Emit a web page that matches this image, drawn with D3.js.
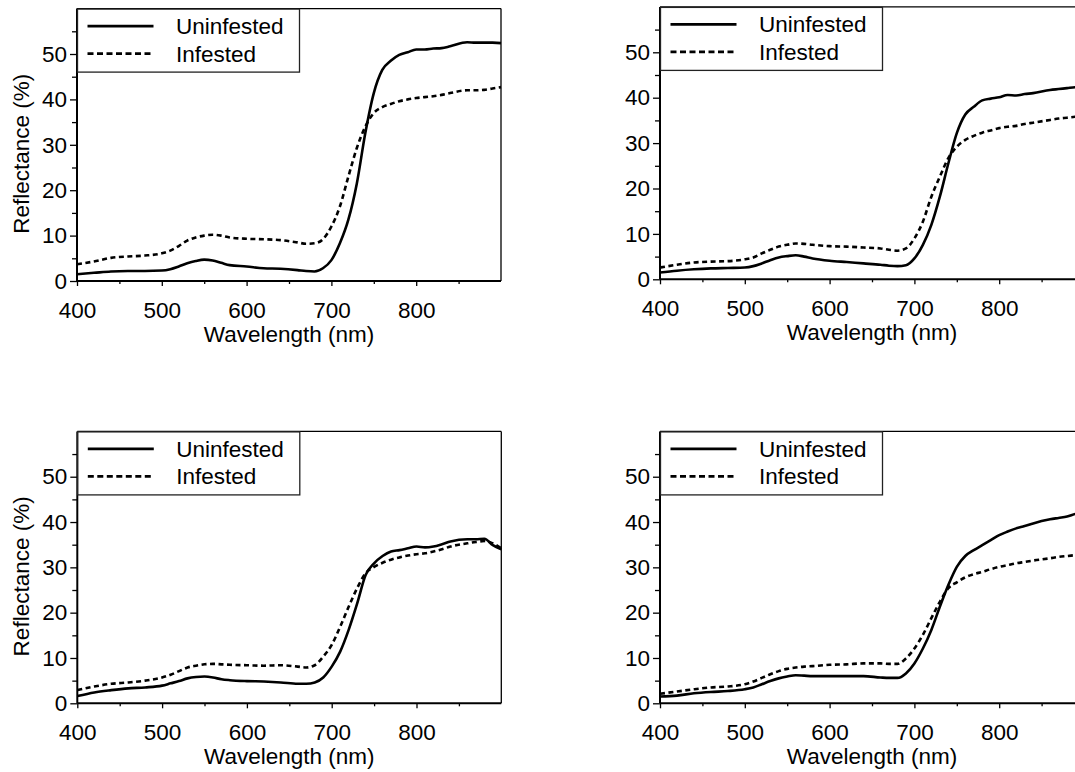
<!DOCTYPE html>
<html>
<head>
<meta charset="utf-8">
<script src="https://cdn.jsdelivr.net/npm/d3@7"></script>
<style>
  body { margin: 0; background: #fff; }
  svg { display: block; font-family: "Liberation Sans", Arial, sans-serif; }
  .tick text { font-size: 22.5px; fill: #000; }
  .tick line { stroke: #000; stroke-width: 1.3; }
</style>
</head>
<body>
<svg id="chart" width="1075" height="772"></svg>
<script>
// wavelength grid (nm) shared by all four panels
const wavelengths = [400, 420, 440, 460, 480, 500, 510, 520, 530, 540, 550, 560, 570, 580, 600, 620, 640, 660, 670, 680,
    690, 700, 710, 720, 730, 740, 750, 760, 770, 780, 790, 800, 810, 820, 830, 840, 860, 870, 880, 890, 900];

// reflectance (%)
const uninfestedA = [1.5, 1.8, 2.1, 2.2, 2.2, 2.3, 2.6, 3.2, 3.9, 4.4, 4.7, 4.5, 4.0, 3.5, 3.2, 2.8, 2.7, 2.4, 2.2, 2.1,
    2.8, 4.6, 8.3, 13.5, 21.5, 32.6, 41.4, 46.5, 48.5, 49.8, 50.4, 51.0, 51.0, 51.2, 51.3, 51.7, 52.6, 52.5, 52.5, 52.5, 52.4];
const infestedA = [3.7, 4.3, 5.1, 5.4, 5.6, 6.1, 6.7, 7.7, 8.9, 9.6, 10.0, 10.2, 10.0, 9.6, 9.3, 9.2, 9.0, 8.5, 8.2, 8.3,
    9.2, 12.0, 16.4, 23.0, 29.3, 34.0, 37.0, 38.3, 39.0, 39.6, 40.0, 40.3, 40.5, 40.7, 41.0, 41.4, 42.0, 42.0, 42.1, 42.4, 42.7];

const uninfestedB = [1.5, 1.9, 2.2, 2.4, 2.5, 2.6, 2.9, 3.5, 4.2, 4.8, 5.1, 5.3, 5.0, 4.6, 4.1, 3.8, 3.5, 3.2, 3.0, 2.9,
    3.1, 4.6, 7.6, 12.0, 18.2, 25.5, 32.2, 36.3, 38.0, 39.4, 39.8, 40.1, 40.6, 40.5, 40.8, 41.0, 41.7, 41.9, 42.1, 42.3, 42.3];
const infestedB = [2.6, 3.2, 3.7, 3.9, 4.0, 4.4, 4.8, 5.7, 6.5, 7.2, 7.6, 7.9, 7.8, 7.6, 7.3, 7.2, 7.0, 6.8, 6.5, 6.3,
    6.8, 9.0, 12.7, 18.2, 22.6, 26.7, 29.2, 30.7, 31.6, 32.3, 32.8, 33.3, 33.6, 33.8, 34.2, 34.5, 35.1, 35.4, 35.6, 35.8, 35.9];

const uninfestedC = [1.6, 2.4, 2.9, 3.3, 3.5, 3.9, 4.4, 4.9, 5.5, 5.8, 5.9, 5.7, 5.3, 5.1, 4.9, 4.8, 4.6, 4.3, 4.3, 4.6,
    5.7, 8.1, 11.4, 16.2, 22.0, 28.3, 30.9, 32.5, 33.5, 33.8, 34.2, 34.6, 34.4, 34.6, 35.1, 35.7, 36.2, 36.2, 36.3, 34.9, 34.0];
const infestedC = [2.9, 3.7, 4.3, 4.6, 5.0, 5.7, 6.3, 7.1, 7.9, 8.3, 8.6, 8.7, 8.6, 8.5, 8.4, 8.3, 8.4, 8.1, 7.9, 8.4,
    10.3, 12.9, 16.9, 21.3, 25.4, 28.7, 30.1, 31.0, 31.7, 32.2, 32.6, 32.9, 33.1, 33.5, 34.0, 34.6, 35.3, 35.6, 35.8, 35.3, 34.2];

const uninfestedD = [1.5, 1.7, 2.2, 2.5, 2.7, 3.1, 3.5, 4.2, 4.9, 5.5, 5.9, 6.2, 6.1, 6.0, 6.0, 6.0, 6.0, 5.7, 5.6, 5.6,
    6.6, 8.8, 12.1, 16.2, 21.3, 26.1, 30.1, 32.5, 33.8, 34.9, 36.0, 37.1, 37.9, 38.6, 39.1, 39.7, 40.6, 40.9, 41.2, 41.8, 42.1];
const infestedD = [2.1, 2.6, 3.1, 3.5, 3.7, 4.2, 4.8, 5.6, 6.4, 7.1, 7.6, 7.9, 8.1, 8.2, 8.5, 8.6, 8.8, 8.8, 8.7, 8.7,
    9.9, 12.1, 15.1, 18.8, 22.4, 25.4, 26.7, 27.8, 28.5, 29.0, 29.6, 30.1, 30.5, 30.9, 31.2, 31.5, 32.0, 32.3, 32.5, 32.7, 32.9];

const seriesNames = ['Uninfested', 'Infested'];
const xMajorTicks = [400, 500, 600, 700, 800];
const xMinorTicks = [450, 550, 650, 750, 850];
const yMajorTicks = [0, 10, 20, 30, 40, 50];
const yMinorTicks = [5, 15, 25, 35, 45, 55];

const panels = [
    { left: 77, top: 8.6, bottom: 281, yLabel: true, u: uninfestedA, inf: infestedA },
    { left: 660, top: 6.9, bottom: 279.3, yLabel: false, u: uninfestedB, inf: infestedB },
    { left: 77.3, top: 431.4, bottom: 703.3, yLabel: true, u: uninfestedC, inf: infestedC },
    { left: 660, top: 431.4, bottom: 703.3, yLabel: false, u: uninfestedD, inf: infestedD }
];

const plotWidth = 424;
const fontSize = 22.5;
const svg = d3.select('#chart');

panels.forEach((p) => {
    const x = d3.scaleLinear().domain([400, 900]).range([0, plotWidth]);
    const y = d3.scaleLinear().domain([0, 60]).range([p.bottom - p.top, 0]);
    const h = p.bottom - p.top;
    const g = svg.append('g').attr('transform', `translate(${p.left},${p.top})`);

    // minor ticks first, then major ticks with labels
    g.append('g').attr('transform', `translate(0,${h})`)
        .call(d3.axisBottom(x).tickValues(xMinorTicks).tickSize(3).tickSizeOuter(0).tickFormat(''))
        .select('.domain').remove();
    g.append('g').attr('transform', `translate(0,${h})`)
        .call(d3.axisBottom(x).tickValues(xMajorTicks).tickSize(5).tickSizeOuter(0).tickPadding(16))
        .select('.domain').remove();
    g.append('g')
        .call(d3.axisLeft(y).tickValues(yMinorTicks).tickSize(5).tickSizeOuter(0).tickFormat(''))
        .select('.domain').remove();
    g.append('g')
        .call(d3.axisLeft(y).tickValues(yMajorTicks).tickSize(7).tickSizeOuter(0).tickPadding(3))
        .select('.domain').remove();

    // frame: heavy left/bottom, light top/right
    g.append('line').attr('x1', 0).attr('x2', plotWidth).attr('y1', h).attr('y2', h)
        .attr('stroke', '#000').attr('stroke-width', 2);
    g.append('line').attr('x1', 0).attr('x2', 0).attr('y1', 0).attr('y2', h)
        .attr('stroke', '#000').attr('stroke-width', 2);
    g.append('line').attr('x1', 0).attr('x2', plotWidth).attr('y1', 0).attr('y2', 0)
        .attr('stroke', '#000').attr('stroke-width', 1.3);
    g.append('line').attr('x1', plotWidth).attr('x2', plotWidth).attr('y1', 0).attr('y2', h)
        .attr('stroke', '#000').attr('stroke-width', 1.3);

    const line = d3.line()
        .x((d, i) => x(wavelengths[i]))
        .y(d => y(d))
        .curve(d3.curveMonotoneX);

    g.append('path').datum(p.inf)
        .attr('d', line).attr('fill', 'none').attr('stroke', '#000')
        .attr('stroke-width', 2.6).attr('stroke-dasharray', '5,3.5');
    g.append('path').datum(p.u)
        .attr('d', line).attr('fill', 'none').attr('stroke', '#000')
        .attr('stroke-width', 2.6);

    // legend box in the top left corner
    const lg = g.append('g');
    lg.append('rect').attr('x', 0.5).attr('y', 0.5).attr('width', 222).attr('height', 63)
        .attr('fill', '#fff').attr('stroke', '#222').attr('stroke-width', 1.3);
    seriesNames.forEach((name, i) => {
        const ly = 17.5 + i * 27.5;
        lg.append('line').attr('x1', 10.5).attr('x2', 76.5).attr('y1', ly).attr('y2', ly)
            .attr('stroke', '#000').attr('stroke-width', 2.6)
            .attr('stroke-dasharray', i === 0 ? null : '6,3.5');
        lg.append('text').attr('x', 99).attr('y', ly + 8)
            .attr('font-size', fontSize).text(name);
    });

    g.append('text')
        .attr('x', plotWidth / 2).attr('y', h + 61)
        .attr('text-anchor', 'middle').attr('font-size', fontSize)
        .text('Wavelength (nm)');

    if (p.yLabel) {
        svg.append('text')
            .attr('transform', `translate(28.5,${(p.top + p.bottom) / 2 + 9}) rotate(-90)`)
            .attr('text-anchor', 'middle').attr('font-size', fontSize)
            .text('Reflectance (%)');
    }
});
</script>
</body>
</html>
